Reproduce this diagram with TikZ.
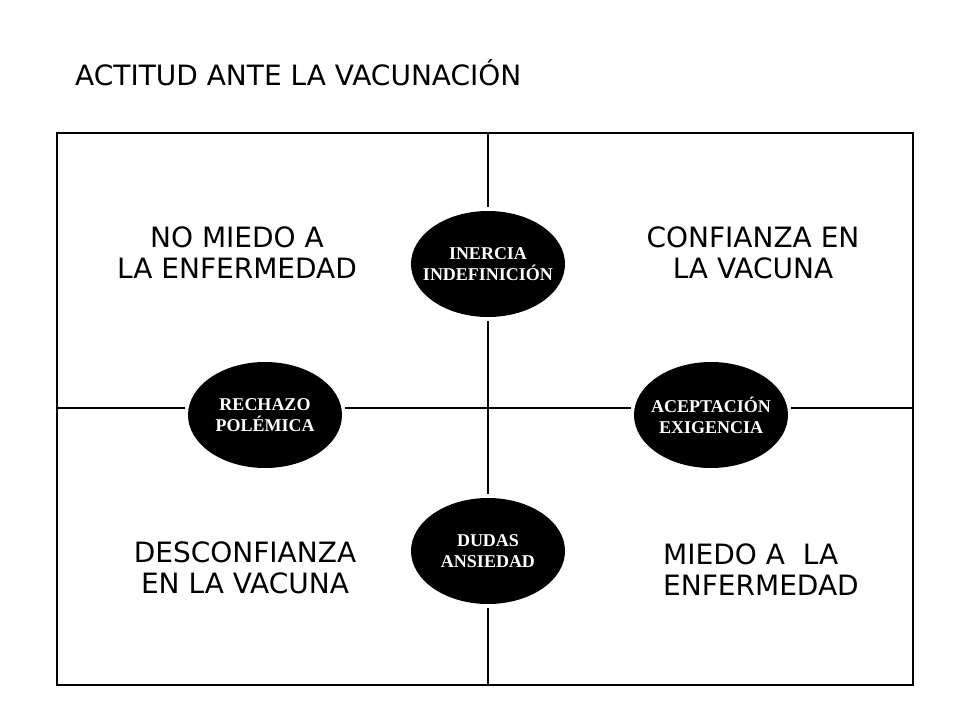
\documentclass[tikz,border=0pt]{standalone}
\usepackage{fontspec}
\setmainfont{DejaVu Sans}
\newfontfamily\ovalfont{Liberation Serif}
\usetikzlibrary{shapes.geometric}

\tikzset{
  quadtext/.style={font=\fontsize{28}{31}\selectfont, align=center},
  oval/.style={ellipse, fill=black, text=white, minimum width=154pt, minimum height=106pt,
    inner xsep=-12pt, inner ysep=0pt, align=center, font=\ovalfont\bfseries\fontsize{18}{21}\selectfont},
  axis/.style={line width=1.2pt}
}

\begin{document}
\begin{tikzpicture}[x=1pt,y=-1pt]
        \useasboundingbox (0,0) rectangle (960,720);

        % Title
        \node[anchor=base west, inner sep=0pt, font=\fontsize{28}{31}\selectfont] (title) at (75,85) {ACTITUD ANTE LA VACUNACIÓN};

        % Frame
        \draw[axis] (57,133) rectangle (913,685);
        \coordinate (N) at (488,133);
        \coordinate (S) at (488,685);
        \coordinate (W) at (57,408);
        \coordinate (E) at (913,408);

        % Ovals
        \node[oval] (inercia) at (488,264) {INERCIA\\INDEFINICIÓN};
        \node[oval] (rechazo) at (265,415) {RECHAZO\\POLÉMICA};
        \node[oval] (aceptacion) at (711,415) {ACEPTACIÓN\\EXIGENCIA};
        \node[oval] (dudas) at (488,551) {DUDAS\\ANSIEDAD};

        % Axes
        \draw[axis, shorten >=4pt] (N) -- (inercia);
        \draw[axis, shorten <=4pt, shorten >=4pt] (inercia) -- (dudas);
        \draw[axis, shorten <=4pt] (dudas) -- (S);
        \draw[axis, shorten >=3pt] (W) -- (W -| rechazo.west);
        \draw[axis, shorten <=3pt, shorten >=3pt] (W -| rechazo.east) -- (W -| aceptacion.west);
        \draw[axis, shorten <=3pt] (W -| aceptacion.east) -- (E);

        % Quadrant labels
        \node[quadtext] (nomiedo) at (237,253) {NO MIEDO A\\LA ENFERMEDAD};
        \node[quadtext] (confianza) at (753,253) {CONFIANZA EN\\LA VACUNA};
        \node[quadtext] (desconfianza) at (245,568) {DESCONFIANZA\\EN LA VACUNA};
        \node[quadtext, align=left, anchor=west, inner sep=0pt] (miedo) at (663,570) {MIEDO A\ \ LA\\ENFERMEDAD};
\end{tikzpicture}
\end{document}
